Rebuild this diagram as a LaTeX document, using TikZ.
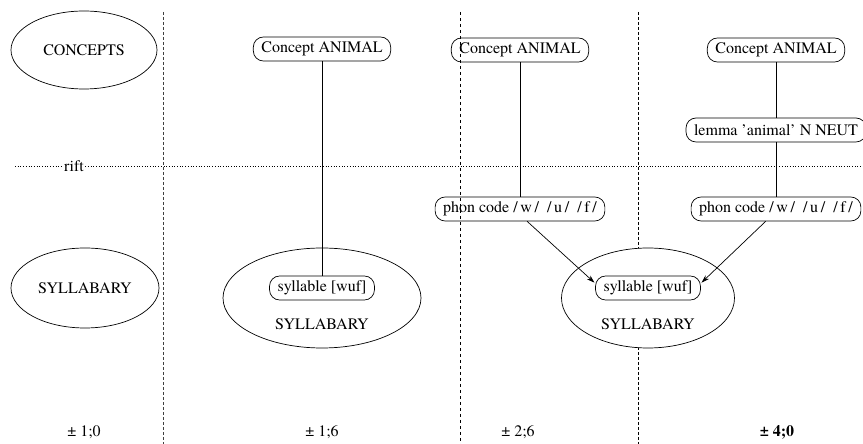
\documentclass[tikz,border=0pt]{standalone}
\usepackage{fontspec}
\setmainfont{texgyretermes}[Extension=.otf, UprightFont=*-regular, BoldFont=*-bold]
\usetikzlibrary{shapes.geometric, arrows.meta, positioning, calc}
\tikzset{
    unitbox/.style={draw, rectangle, rounded corners=10pt, inner xsep=8pt, inner ysep=0pt, minimum height=24pt, fill=white},
    storebox/.style={draw, ellipse, fill=white},
    stagesep/.style={densely dashed, black!75},
    feeds/.style={-{Stealth[length=8pt, width=5pt]}, shorten >=1pt}
}
\begin{document}
\begin{tikzpicture}[x=1pt, y=1pt, line width=0.7pt, font=\fontsize{16}{19}\selectfont]
        \useasboundingbox (0,0) rectangle (863,444);

        % Stage separators
        \draw[stagesep] (163,432) -- (163,0);
        \draw[stagesep, black] (638,432) -- (638,0);

        % Rift
        \node[inner sep=1pt] (rift) at (74,278) {rift};
        \coordinate (riftL) at (15,278);
        \coordinate (riftR) at (863,278);
        \draw[dotted] (riftL) -- (rift.west);
        \draw[dotted] (rift.east) -- (riftR);

        % Stage 1
        \node[storebox, minimum width=146pt, minimum height=78pt] (conA) at (84,394) {CONCEPTS};
        \node[storebox, minimum width=148pt, minimum height=80pt] (sylA) at (85,156) {SYLLABARY};

        % Stage 2
        \node[unitbox] (animB) at (322,395) {Concept ANIMAL};
        \node[storebox, minimum width=198pt, minimum height=100pt] (sylbB) at (322,146) {};
        \node[unitbox] (wufB) at (322,156) {syllable [wuf]};
        \node (sylTxtB) at (322,120) {SYLLABARY};
        \draw (animB) -- (wufB);

        % Stage 3
        \node[unitbox] (animC) at (520,394) {Concept ANIMAL};
        \node[unitbox] (phonC) at (520,235) {phon code /\,w\,/\enspace/\,u\,/\enspace/\,f\,/};
        \draw (animC) -- (phonC);

        % Stage 4
        \node[unitbox] (animD) at (776,394) {Concept ANIMAL};
        \node[unitbox] (lemmaD) at (776,314) {lemma ’animal’ N NEUT};
        \node[unitbox] (phonD) at (776,235) {phon code /\,w\,/\enspace/\,u\,/\enspace/\,f\,/};
        \draw (animD) -- (lemmaD);
        \draw (lemmaD) -- (phonD);

        % Shared syllabary
        \node[storebox, minimum width=173pt, minimum height=100pt] (sylCD) at (648,146) {};
        \node[unitbox] (wufCD) at (648,156) {syllable [wuf]};
        \node (sylTxtCD) at (648,120) {SYLLABARY};
        \draw[feeds] (phonC.-60) -- (wufCD.175);
        \draw[feeds] (phonD.-130) -- (wufCD.5);

        % Separator drawn over the nodes
        \draw[dashed] (460,432) -- (460,0);

        % Ages
        \node (ageA) at (84,12) {± 1;0};
        \node (ageB) at (322,12) {± 1;6};
        \node (ageC) at (518,12) {± 2;6};
        \node[font=\fontsize{16}{19}\selectfont\bfseries] (ageD) at (777,12) {± 4;0};
    \end{tikzpicture}
\end{document}
